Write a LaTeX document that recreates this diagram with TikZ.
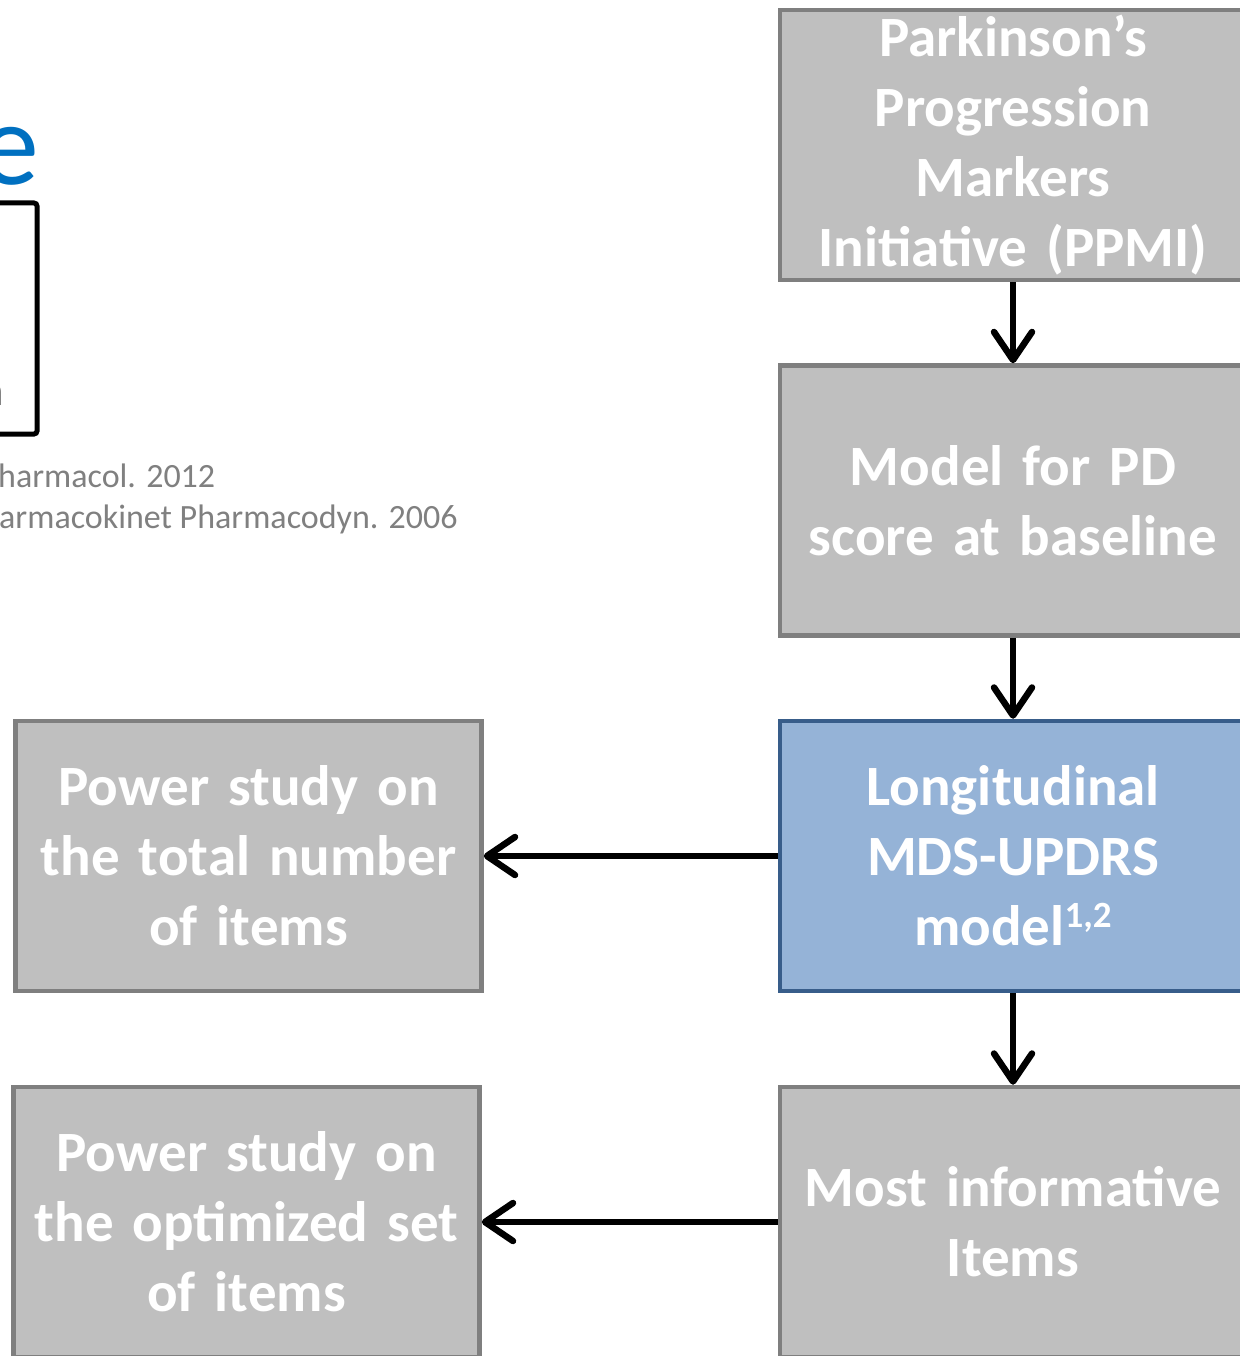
\documentclass[tikz,border=0pt]{standalone}
\usepackage{fontspec}
\setmainfont{Carlito}
\usetikzlibrary{arrows.meta}
\definecolor{boxfill}{HTML}{BFBFBF}
\definecolor{boxline}{HTML}{7F7F7F}
\definecolor{bluefill}{HTML}{95B3D7}
\definecolor{blueline}{HTML}{385D8A}
\definecolor{titleblue}{HTML}{0070C0}
\definecolor{refgray}{HTML}{808080}
\tikzset{
  flowbox/.style={draw=boxline, fill=boxfill, line width=4.5pt, rectangle,
    minimum width=466pt, minimum height=270pt, inner sep=0pt,
    text width=460pt, align=center, text=white,
    font=\fontsize{57}{70}\selectfont\bfseries},
  bluebox/.style={flowbox, draw=blueline, fill=bluefill},
  flowarrow/.style={line width=6.5pt, -{Straight Barb[length=28pt,width=38pt,round]}},
  reftext/.style={text=refgray, inner sep=0pt, anchor=base west, font=\fontsize{34}{40}\selectfont}
}
\begin{document}
\begin{tikzpicture}[x=1pt,y=-1pt]
\useasboundingbox (0,0) rectangle (1239,1356);
% partial left content
\node[text=titleblue, inner sep=0pt, anchor=base east, font=\fontsize{118}{130}\selectfont] (ttl) at (39,185) {e};
\draw[line width=5pt, rounded corners=3pt] (-20,203) -- (37,203) -- (37,434) -- (-20,434);
\node[text=refgray, inner sep=0pt, anchor=base east, font=\fontsize{43}{50}\selectfont] (frag) at (4,405) {n};
\node[reftext] (ref1) at (-2,487) {harmacol. 2012};
\node[reftext] (ref2) at (-1,528) {armacokinet Pharmacodyn. 2006};
% right column
\node[flowbox] (ppmi) at (1013,145) {Parkinson’s\\Progression\\Markers\\Initiative (PPMI)};
\node[flowbox] (base) at (1013,500.5) {Model for PD\\score at baseline};
\node[bluebox] (long) at (1013,856) {Longitudinal\\MDS-UPDRS\\model\raisebox{18pt}{\fontsize{37}{40}\selectfont 1,2}};
\node[flowbox] (most) at (1013,1222) {Most informative\\Items};
% left column
\node[flowbox] (powa) at (248.5,856) {Power study on\\the total number\\of items};
\node[flowbox] (powb) at (246.5,1222) {Power study on\\the optimized set\\of items};
% connectors
\draw[flowarrow] (ppmi.south) -- (base.north);
\draw[flowarrow] (base.south) -- (long.north);
\draw[flowarrow] (long.south) -- (most.north);
\draw[flowarrow] (long.west) -- (powa.east);
\draw[flowarrow] (most.west) -- (powb.east);
\end{tikzpicture}
\end{document}
